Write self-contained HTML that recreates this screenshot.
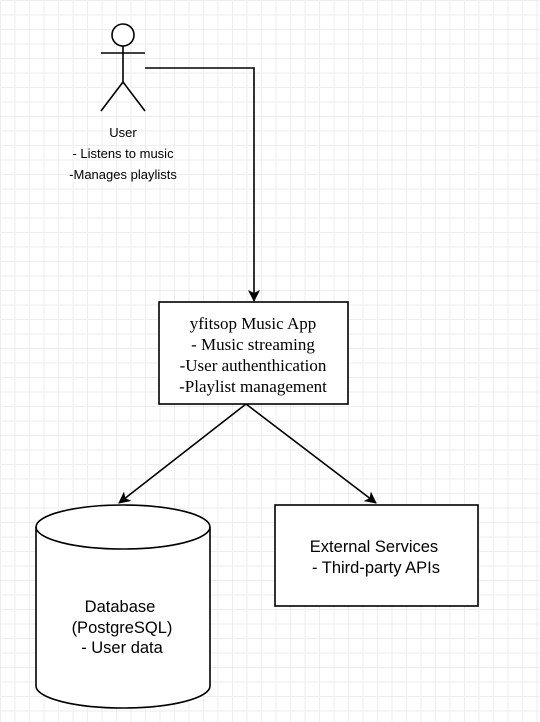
<!DOCTYPE html>
<html><head><style>
html,body{margin:0;padding:0;}
body{width:540px;height:722px;overflow:hidden;background:#fff;
background-image:linear-gradient(#ededed 1px,transparent 1px),linear-gradient(90deg,#ededed 1px,transparent 1px);
background-size:14.5px 14.5px;background-position:0 0;}
svg{position:absolute;left:0;top:0;}
</style></head><body>
<svg width="540" height="722" viewBox="0 0 540 722" xmlns="http://www.w3.org/2000/svg">
<defs><marker id="a" markerWidth="12" markerHeight="12" refX="11" refY="6" orient="auto" markerUnits="userSpaceOnUse"><path d="M0,0 L12,6 L0,12 L3,6 Z" fill="#000"/></marker></defs>
<g stroke="#000" stroke-width="1.6" fill="none">
<circle cx="123" cy="35" r="11" fill="#fff"/>
<line x1="101" y1="53" x2="145" y2="53"/>
<line x1="123" y1="46" x2="123" y2="82"/>
<line x1="123" y1="82" x2="101" y2="111"/>
<line x1="123" y1="82" x2="145" y2="111"/>
<polyline points="145,68 254,68 254,301" marker-end="url(#a)"/>
<rect x="159" y="302" width="189" height="102" fill="#fff"/>
<line x1="246" y1="404" x2="119" y2="503" marker-end="url(#a)"/>
<line x1="246" y1="404" x2="376" y2="503" marker-end="url(#a)"/>
<rect x="275" y="505" width="203" height="101" fill="#fff"/>
<path d="M36,527 L36,686 A87,22 0 0 0 210,686 L210,527 A87,22 0 0 0 36,527 Z" fill="#fff"/>
<path d="M36,527 A87,22 0 0 0 210,527"/>
</g>
<g font-family="Liberation Sans, Arial, sans-serif" font-size="13" text-anchor="middle" fill="#000">
<text x="123" y="137">User</text>
<text x="123" y="158">- Listens to music</text>
<text x="123" y="179">-Manages playlists</text>
</g>
<g font-family="Liberation Serif, serif" font-size="17" text-anchor="middle" fill="#000">
<text x="253" y="329">yfitsop Music App</text>
<text x="253" y="350">- Music streaming</text>
<text x="253" y="371">-User authenthication</text>
<text x="253" y="392">-Playlist management</text>
</g>
<g font-family="Liberation Sans, Arial, sans-serif" font-size="16.5" text-anchor="middle" fill="#000">
<text x="374" y="552">External Services</text>
<text x="376" y="573">- Third-party APIs</text>
<text x="120" y="612">Database</text>
<text x="122" y="633">(PostgreSQL)</text>
<text x="122" y="653">- User data</text>
</g>
</svg>
</body></html>
